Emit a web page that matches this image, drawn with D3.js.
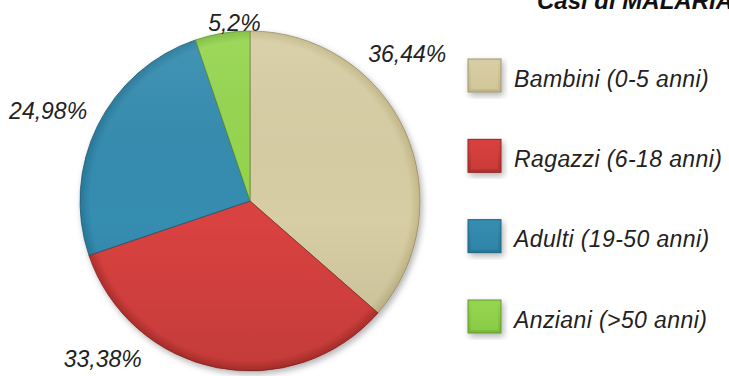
<!DOCTYPE html>
<html><head><meta charset="utf-8">
<script src="https://cdn.jsdelivr.net/npm/d3@7"></script>
<style>html,body{margin:0;padding:0;background:#fff;overflow:hidden}</style>
</head><body>
<svg id="chart" width="729" height="376"></svg>
<script>
const categories = ["Bambini (0-5 anni)", "Ragazzi (6-18 anni)", "Adulti (19-50 anni)", "Anziani (>50 anni)"];
const values = [36.44, 33.38, 24.98, 5.2];
const valueLabels = ["36,44%", "33,38%", "24,98%", "5,2%"];
const title = "Casi di MALARIA";

const colorsLight = ["#d8cea5", "#d9423f", "#358db0", "#96d650"];
const colorsDark  = ["#c4b888", "#b2302d", "#27789a", "#78bb38"];
// label placement (polar, degrees clockwise from top, radius)
const labelPolar = [[47, 215], [223, 216], [294, 221], [355, 179]];

const svg = d3.select("#chart");
const defs = svg.append("defs");
const cx = 250, cy = 201, R = 170;

const f = defs.append("filter").attr("id","shadow").attr("x","-20%").attr("y","-20%").attr("width","140%").attr("height","140%");
f.append("feDropShadow").attr("dx",2).attr("dy",3).attr("stdDeviation",3).attr("flood-color","#000").attr("flood-opacity",0.3);

categories.forEach((c,i)=>{
  const g = defs.append("linearGradient").attr("id","g"+i).attr("x1",0).attr("y1",0).attr("x2",0).attr("y2",1);
  g.append("stop").attr("offset","0%").attr("stop-color",colorsLight[i]);
  g.append("stop").attr("offset","100%").attr("stop-color",colorsDark[i]);
  const rg = defs.append("radialGradient").attr("id","r"+i).attr("gradientUnits","userSpaceOnUse")
    .attr("cx",0).attr("cy",0).attr("r",R);
  rg.append("stop").attr("offset","0%").attr("stop-color",colorsLight[i]);
  rg.append("stop").attr("offset","94%").attr("stop-color",colorsLight[i]);
  rg.append("stop").attr("offset","100%").attr("stop-color",colorsDark[i]);
});
const bev = defs.append("linearGradient").attr("id","shade").attr("gradientUnits","userSpaceOnUse")
  .attr("x1",0).attr("y1",-R).attr("x2",0).attr("y2",R);
bev.append("stop").attr("offset","0%").attr("stop-color","#fff").attr("stop-opacity",0.08);
bev.append("stop").attr("offset","55%").attr("stop-color","#000").attr("stop-opacity",0);
bev.append("stop").attr("offset","100%").attr("stop-color","#000").attr("stop-opacity",0.1);

const pie = d3.pie().sort(null).value(d=>d);
const arcs = pie(values);
const arc = d3.arc().innerRadius(0).outerRadius(R);

const pg = svg.append("g").attr("transform",`translate(${cx},${cy})`);
const sg = pg.append("g").attr("filter","url(#shadow)");
sg.selectAll("path.slice").data(arcs).join("path").attr("class","slice")
  .attr("d",arc).attr("fill",(d,i)=>`url(#r${i})`)
  .attr("stroke",(d,i)=>d3.color(colorsDark[i]).darker(0.8)).attr("stroke-width",0.8).attr("stroke-linejoin","round");
pg.append("circle").attr("r",R).attr("fill","url(#shade)");

pg.selectAll("text.lbl").data(arcs).join("text").attr("class","lbl")
  .attr("x",(d,i)=>labelPolar[i][1]*Math.sin(labelPolar[i][0]*Math.PI/180))
  .attr("y",(d,i)=>-labelPolar[i][1]*Math.cos(labelPolar[i][0]*Math.PI/180))
  .attr("text-anchor","middle").attr("dominant-baseline","central")
  .attr("font-family","Liberation Sans, Arial, sans-serif").attr("font-style","italic")
  .attr("font-size",23).attr("fill","#222").text((d,i)=>valueLabels[i]);

// legend
const ly = d3.scalePoint().domain(categories).range([75.5, 316.5]);
const lg = svg.append("g");
const items = lg.selectAll("g").data(categories).join("g").attr("transform",d=>`translate(468,${ly(d)})`);
items.append("rect").attr("x",0).attr("y",-16.5).attr("width",33).attr("height",33)
  .attr("fill",(d,i)=>`url(#g${i})`).attr("stroke",(d,i)=>d3.color(colorsDark[i]).darker(0.6)).attr("stroke-width",1)
  .attr("filter","url(#shadow)");
items.append("rect").attr("x",3).attr("y",-13.5).attr("width",27).attr("height",27)
  .attr("fill",(d,i)=>colorsLight[i]).attr("opacity",0.6);
items.append("text").attr("x",46).attr("y",3).attr("dominant-baseline","central")
  .attr("font-family","Liberation Sans, Arial, sans-serif").attr("font-style","italic")
  .attr("font-size",23).attr("letter-spacing",0.4).attr("fill","#222").text(d=>d);

svg.append("text").attr("x",537).attr("y",9)
  .attr("font-family","Liberation Sans, Arial, sans-serif").attr("font-style","italic").attr("font-weight","bold")
  .attr("font-size",24).attr("fill","#111").text(title);
</script>
</body></html>
